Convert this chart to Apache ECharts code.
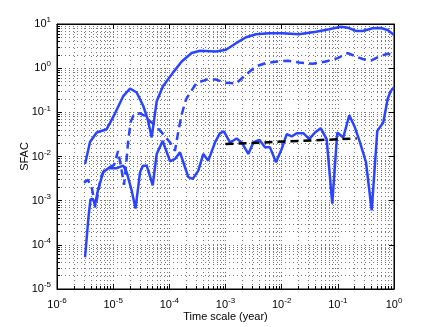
<!DOCTYPE html>
<html><head><meta charset="utf-8">
<script src="https://cdn.jsdelivr.net/npm/echarts@6/dist/echarts.min.js"></script>
<style>html,body{margin:0;padding:0;background:#fff}#c{width:436px;height:327px}</style>
</head><body><div id="c"></div>
<script>
// Upper solid curve
const upperX = [3.16e-6,3.87e-6,5.09e-6,7.67e-6,1.08e-5,1.50e-5,2.00e-5,2.62e-5,3.44e-5,4.12e-5,4.85e-5,5.96e-5,7.71e-5,1.16e-4,1.66e-4,2.50e-4,3.52e-4,6.78e-4,1.02e-3,1.54e-3,2.32e-3,3.49e-3,5.94e-3,1.04e-2,2.03e-2,4.08e-2,6.97e-2,0.114,0.150,0.210,0.277,0.417,0.586,0.771,1.0];
const upperY = [6.78e-3,2.12e-2,3.50e-2,4.15e-2,9.51e-2,0.229,0.346,0.281,0.139,6.97e-2,2.70e-2,0.179,0.390,0.793,1.42,2.20,2.47,2.39,2.61,3.68,5.02,5.87,6.18,6.18,5.87,6.71,7.60,8.69,8.26,6.97,6.97,8.00,8.13,7.33,5.66];
// Dashed blue curve
const dashX = [3.03e-6,3.56e-6,4.20e-6,4.84e-6,6.07e-6,7.16e-6,8.79e-6,1.04e-5,1.22e-5,1.38e-5,1.56e-5,1.74e-5,1.86e-5,2.07e-5,2.35e-5,3.01e-5,3.69e-5,4.53e-5,5.56e-5,7.31e-5,1.03e-4,1.26e-4,1.45e-4,1.66e-4,1.98e-4,2.33e-4,3.07e-4,4.62e-4,6.78e-4,1.02e-3,1.54e-3,2.32e-3,3.49e-3,5.26e-3,8.49e-3,1.28e-2,2.03e-2,3.56e-2,6.15e-2,9.93e-2,0.150,0.210,0.277,0.389,0.547,0.771,1.0];
const dashY = [2.54e-3,2.96e-3,1.86e-3,6.97e-4,3.46e-3,5.24e-3,5.81e-3,6.44e-3,1.33e-2,5.81e-3,2.29e-3,8.79e-3,2.47e-2,6.28e-2,9.02e-2,9.51e-2,8.26e-2,6.28e-2,5.11e-2,3.50e-2,2.08e-2,1.35e-2,3.80e-2,9.02e-2,0.196,0.277,0.465,0.552,0.552,0.465,0.449,0.714,1.10,1.31,1.42,1.48,1.35,1.26,1.42,1.69,2.20,1.84,1.61,1.48,1.84,2.12,2.01];
// Lower solid curve
const lowerX = [3.16e-6,3.61e-6,3.94e-6,4.33e-6,4.75e-6,5.43e-6,6.67e-6,8.18e-6,1.16e-5,1.51e-5,1.74e-5,2.14e-5,2.50e-5,3.01e-5,3.40e-5,3.95e-5,4.35e-5,5.06e-5,5.96e-5,7.62e-5,8.38e-5,1.03e-4,1.26e-4,1.55e-4,1.90e-4,2.18e-4,2.61e-4,3.28e-4,4.03e-4,4.94e-4,6.50e-4,7.98e-4,9.40e-4,1.20e-3,1.58e-3,1.94e-3,2.55e-3,3.13e-3,4.00e-3,5.05e-3,6.19e-3,7.93e-3,1.00e-2,1.23e-2,1.51e-2,1.85e-2,2.43e-2,3.10e-2,3.92e-2,4.95e-2,6.32e-2,7.96e-2,9.77e-2,0.125,0.160,0.202,0.248,0.317,0.401,0.504,0.644,0.771,0.87,1.0];
const lowerY = [5.24e-5,3.94e-4,1.05e-3,1.11e-3,8.13e-4,1.86e-3,4.42e-3,5.43e-3,5.43e-3,6.21e-3,4.42e-3,1.68e-3,6.61e-4,4.42e-3,6.21e-3,6.21e-3,4.26e-3,2.21e-3,1.14e-2,2.26e-2,1.61e-2,7.80e-3,8.79e-3,1.24e-2,5.71e-3,3.41e-3,3.12e-3,4.80e-3,1.14e-2,8.05e-3,2.08e-2,3.37e-2,3.68e-2,2.08e-2,2.56e-2,2.08e-2,1.14e-2,2.08e-2,2.39e-2,1.61e-2,1.61e-2,7.41e-3,1.48e-2,3.21e-2,2.84e-2,3.37e-2,3.37e-2,2.47e-2,3.50e-2,4.37e-2,2.47e-2,8.57e-4,3.50e-2,2.70e-2,8.57e-2,4.53e-2,2.08e-2,7.41e-3,6.05e-4,3.80e-2,5.87e-2,0.20,0.30,0.37];
// Black dashed fit
const fitX = [1.0e-3, 0.217];
const fitY = [1.91e-2, 2.56e-2];
// Tick label exponents
const xExponents = [-6,-5,-4,-3,-2,-1,0];
const yExponents = [-5,-4,-3,-2,-1,0,1];

const pairs = (xs, ys) => xs.map((x, i) => [x, ys[i]]);
const BLUE = '#2a44ff';
const gridLine = {show:true, lineStyle:{color:'#777', width:1, type:[1,3]}};
const rich = {
  b:{fontSize:11, fontFamily:'Liberation Sans', color:'#000', lineHeight:16, verticalAlign:'middle'},
  s:{fontSize:8, fontFamily:'Liberation Sans', color:'#000', lineHeight:8, verticalAlign:'top'}
};
function fmt(list){
  return function(v){
    const e = Math.round(Math.log10(v));
    if (list.indexOf(e) < 0) return '';
    return '{b|10}{s|' + e + '}';
  };
}
const chart = echarts.init(document.getElementById('c'), null, {renderer:'canvas'});
chart.setOption({
  animation:false,
  backgroundColor:'#fff',
  grid:{left:57, right:42, top:24, bottom:36, show:true, borderColor:'#000', borderWidth:1, backgroundColor:'transparent'},
  xAxis:[{
    type:'log', logBase:10, min:1e-6, max:1,
    name:'Time scale (year)', nameLocation:'middle', nameGap:22, nameMoveOverlap:false,
    nameTextStyle:{fontSize:11, fontFamily:'Liberation Sans', color:'#000'},
    axisLine:{show:true, onZero:false, lineStyle:{color:'#000', width:1}},
    axisTick:{show:true, inside:true, length:5, lineStyle:{color:'#000'}},
    minorTick:{show:true, splitNumber:9, length:3, lineStyle:{color:'#000'}},
    axisLabel:{formatter:fmt(xExponents), rich:rich, margin:8},
    splitLine:gridLine,
    minorSplitLine:gridLine
  },{
    type:'log', logBase:10, min:1e-6, max:1, position:'top',
    axisLine:{show:true, lineStyle:{color:'#000'}},
    axisTick:{show:true, inside:true, length:5, lineStyle:{color:'#000'}},
    axisLabel:{show:false}, splitLine:{show:false}
  }],
  yAxis:[{
    type:'log', logBase:10, min:1e-5, max:10,
    name:'SFAC', nameLocation:'middle', nameGap:27, nameMoveOverlap:false,
    nameTextStyle:{fontSize:11, fontFamily:'Liberation Sans', color:'#000'},
    axisLine:{show:true, onZero:false, lineStyle:{color:'#000', width:1}},
    axisTick:{show:true, inside:true, length:5, lineStyle:{color:'#000'}},
    minorTick:{show:true, splitNumber:9, length:3, lineStyle:{color:'#000'}},
    axisLabel:{formatter:fmt(yExponents), rich:rich, margin:6},
    splitLine:gridLine,
    minorSplitLine:gridLine
  },{
    type:'log', logBase:10, min:1e-5, max:10, position:'right',
    axisLine:{show:true, lineStyle:{color:'#000'}},
    axisTick:{show:true, inside:true, length:5, lineStyle:{color:'#000'}},
    axisLabel:{show:false}, splitLine:{show:false}
  }],
  series:[
    {type:'line', data:pairs(lowerX, lowerY), showSymbol:false, lineStyle:{color:BLUE, width:2.5}, z:3},
    {type:'line', data:pairs(dashX, dashY), showSymbol:false, lineStyle:{color:BLUE, width:2.5, type:[8,5]}, z:3},
    {type:'line', data:pairs(upperX, upperY), showSymbol:false, lineStyle:{color:BLUE, width:2.5}, z:3},
    {type:'line', data:pairs(fitX, fitY), showSymbol:false, lineStyle:{color:'#000', width:2.5, type:[8,5]}, z:4}
  ]
});
</script></body></html>
